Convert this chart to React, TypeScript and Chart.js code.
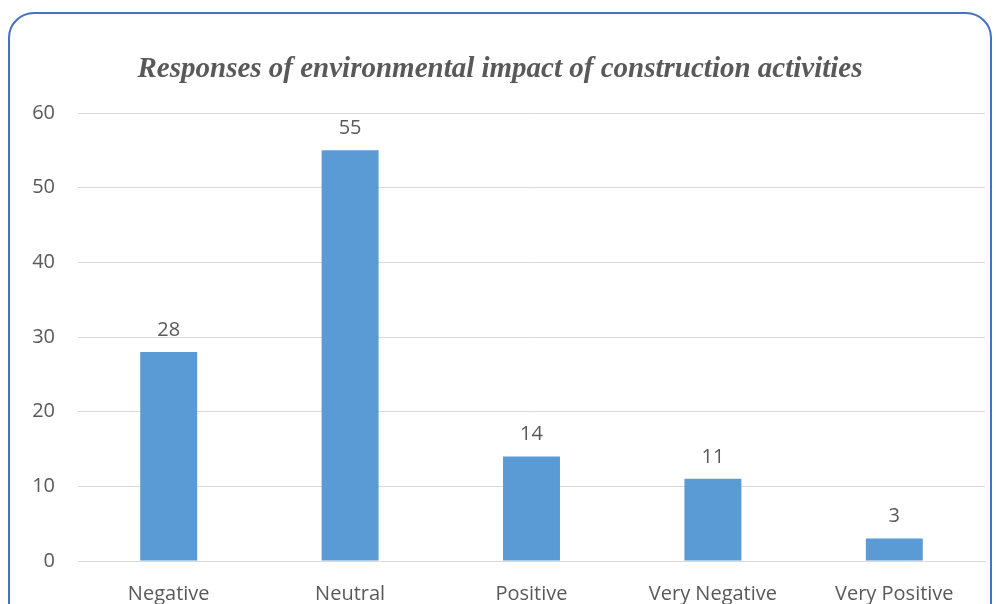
import React, { useEffect, useRef } from "react";
import { Chart, registerables, Plugin } from "chart.js";

Chart.register(...registerables);

const categories = ["Negative", "Neutral", "Positive", "Very Negative", "Very Positive"];
const responses = [28, 55, 14, 11, 3];
const titleText = "Responses of environmental impact of construction activities";
const yMin = 0;
const yMax = 60;
const yStep = 10;

const BAR_COLOR = "#5B9BD5";
const TEXT_COLOR = "#595959";
const GRID_COLOR = "#D9D9D9";
const LABEL_FONT = "'Open Sans', 'Noto Sans', sans-serif";

// Heading drawn above the plot area
const titlePlugin: Plugin<"bar"> = {
  id: "headingTitle",
  afterDraw(chart) {
    const ctx = chart.ctx;
    ctx.save();
    ctx.font = "italic bold 29px 'Liberation Serif', 'Times New Roman', serif";
    ctx.fillStyle = TEXT_COLOR;
    ctx.textAlign = "center";
    ctx.textBaseline = "alphabetic";
    ctx.fillText(titleText, 500, 77);
    ctx.restore();
  },
};

// Value labels above each bar
const valueLabelPlugin: Plugin<"bar"> = {
  id: "valueLabels",
  afterDatasetsDraw(chart) {
    const ctx = chart.ctx;
    const meta = chart.getDatasetMeta(0);
    const data = chart.data.datasets[0].data as number[];
    ctx.save();
    ctx.font = `20px ${LABEL_FONT}`;
    ctx.fillStyle = TEXT_COLOR;
    ctx.textAlign = "center";
    ctx.textBaseline = "middle";
    meta.data.forEach((bar, i) => {
      ctx.fillText(String(data[i]), bar.x, bar.y - 22);
    });
    ctx.restore();
  },
};

export default function App() {
  const canvasRef = useRef<HTMLCanvasElement | null>(null);

  useEffect(() => {
    if (!canvasRef.current) return;
    const chart = new Chart(canvasRef.current, {
      type: "bar",
      data: {
        labels: categories,
        datasets: [
          {
            data: responses,
            backgroundColor: BAR_COLOR,
            barPercentage: 0.314,
            categoryPercentage: 1,
          },
        ],
      },
      options: {
        responsive: false,
        animation: false,
        layout: { padding: { top: 113, left: 0, right: 11, bottom: 0 } },
        plugins: {
          legend: { display: false },
          title: { display: false },
          tooltip: { enabled: false },
        },
        scales: {
          x: {
            grid: { display: false, drawTicks: false },
            border: { display: true, color: GRID_COLOR, width: 1 },
            ticks: {
              color: TEXT_COLOR,
              font: { family: LABEL_FONT, size: 20 },
              padding: 21,
              maxRotation: 0,
              autoSkip: false,
            },
            afterFit(scale) {
              scale.height = 43;
            },
          },
          y: {
            min: yMin,
            max: yMax,
            grid: { color: GRID_COLOR, lineWidth: 1, drawTicks: false },
            border: { display: false },
            ticks: {
              stepSize: yStep,
              color: TEXT_COLOR,
              font: { family: LABEL_FONT, size: 20 },
              padding: 23,
            },
            afterFit(scale) {
              scale.width = 78;
            },
          },
        },
      },
      plugins: [titlePlugin, valueLabelPlugin],
    });
    return () => chart.destroy();
  }, []);

  return (
    <div
      style={{
        position: "fixed",
        left: 0,
        top: 0,
        width: 996,
        height: 604,
        overflow: "hidden",
        background: "#ffffff",
      }}
    >
      <div
        style={{
          position: "absolute",
          left: 8,
          top: 12,
          width: 984,
          height: 640,
          border: "2px solid #4472C4",
          borderRadius: 26,
          boxSizing: "border-box",
        }}
      />
      <canvas
        ref={canvasRef}
        width={996}
        height={604}
        style={{ position: "absolute", left: 0, top: 0 }}
      />
    </div>
  );
}
